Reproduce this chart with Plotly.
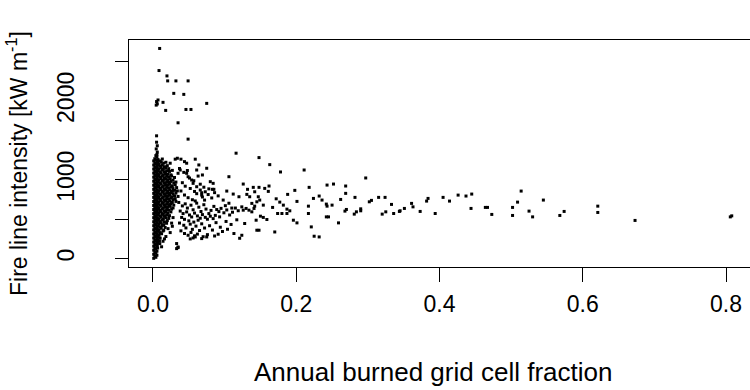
import plotly.graph_objects as go

# ---------------- data ----------------
# dense column of cells with almost no burned fraction
col_x = [0.001, 0.004, 0.0025, 0.0055] * 25
col_y = [4, 17, 29, 43, 55, 68, 81, 95, 107, 119,
         133, 146, 158, 171, 185, 197, 210, 222, 236, 249,
         261, 274, 288, 300, 313, 326, 339, 351, 365, 378,
         390, 403, 417, 429, 442, 455, 467, 480, 494, 506,
         519, 532, 545, 557, 570, 584, 596, 609, 622, 634,
         647, 661, 673, 686, 699, 711, 724, 738, 750, 763,
         776, 788, 801, 815, 827, 840, 853, 865, 878, 892,
         904, 917, 930, 942, 955, 969, 981, 994, 1007, 1019,
         1032, 1046, 1058, 1071, 1084, 1096, 1109, 1123, 1135, 1148,
         1161, 1173, 1186, 1200, 1212, 1225, 1238, 1251, 1266, 1288]

# dense wedge next to the column
wedge_points = [
    (0.007, 1255), (0.010, 1238), (0.013, 1262),
    (0.0065, 1218), (0.0085, 1200), (0.0115, 1225), (0.015, 1210),
    (0.007, 1185), (0.010, 1170), (0.013, 1190), (0.016, 1165), (0.020, 1178),
    (0.006, 1150), (0.0085, 1135), (0.0115, 1155), (0.0145, 1130), (0.018, 1148), (0.022, 1140),
    (0.007, 1115), (0.010, 1100), (0.013, 1120), (0.016, 1095), (0.019, 1112), (0.023, 1105), (0.027, 1118),
    (0.006, 1080), (0.0085, 1065), (0.0115, 1085), (0.0145, 1060), (0.0175, 1078), (0.021, 1070), (0.025, 1062),
    (0.007, 1045), (0.010, 1030), (0.013, 1050), (0.016, 1025), (0.019, 1042), (0.022, 1035), (0.026, 1048), (0.030, 1028),
    (0.006, 1010), (0.0085, 995), (0.0115, 1015), (0.0145, 990), (0.0175, 1008), (0.0205, 1000), (0.024, 1012), (0.028, 995),
    (0.007, 975), (0.010, 960), (0.013, 980), (0.016, 955), (0.019, 972), (0.022, 965), (0.025, 978), (0.029, 958), (0.032, 970),
    (0.006, 940), (0.0085, 925), (0.0115, 945), (0.0145, 920), (0.0175, 938), (0.0205, 930), (0.0235, 942), (0.027, 922), (0.031, 935),
    (0.007, 905), (0.010, 890), (0.013, 910), (0.016, 885), (0.019, 902), (0.022, 895), (0.025, 908), (0.028, 888), (0.033, 900),
    (0.006, 870), (0.0085, 855), (0.0115, 875), (0.0145, 850), (0.0175, 868), (0.0205, 860), (0.0235, 872), (0.027, 852), (0.030, 865), (0.034, 858),
    (0.007, 835), (0.010, 820), (0.013, 840), (0.016, 815), (0.019, 832), (0.022, 825), (0.025, 838), (0.028, 818), (0.032, 830),
    (0.006, 800), (0.0085, 785), (0.0115, 805), (0.0145, 780), (0.0175, 798), (0.0205, 790), (0.0235, 802), (0.0265, 782), (0.030, 795), (0.035, 788),
    (0.007, 765), (0.010, 750), (0.013, 770), (0.016, 745), (0.019, 762), (0.022, 755), (0.025, 768), (0.028, 748), (0.031, 760),
    (0.006, 730), (0.0085, 715), (0.0115, 735), (0.0145, 710), (0.0175, 728), (0.0205, 720), (0.0235, 732), (0.027, 712), (0.032, 725),
    (0.007, 695), (0.010, 680), (0.013, 700), (0.016, 675), (0.019, 692), (0.022, 685), (0.025, 698), (0.029, 678),
    (0.006, 660), (0.0085, 645), (0.0115, 665), (0.0145, 640), (0.0175, 658), (0.0205, 650), (0.024, 662), (0.028, 642),
    (0.007, 625), (0.010, 610), (0.013, 630), (0.016, 605), (0.019, 622), (0.022, 615), (0.026, 628),
    (0.006, 590), (0.0085, 575), (0.0115, 595), (0.0145, 570), (0.0175, 588), (0.021, 580), (0.025, 592),
    (0.007, 555), (0.010, 540), (0.013, 560), (0.016, 535), (0.019, 552), (0.023, 545),
    (0.006, 520), (0.0085, 505), (0.0115, 525), (0.0145, 500), (0.018, 518), (0.022, 510),
    (0.007, 485), (0.010, 470), (0.013, 490), (0.016, 465), (0.020, 482),
    (0.006, 450), (0.0085, 435), (0.0115, 455), (0.015, 430), (0.019, 448),
    (0.007, 415), (0.010, 400), (0.013, 420), (0.017, 395),
    (0.006, 380), (0.0085, 365), (0.0115, 385), (0.015, 360),
    (0.007, 345), (0.010, 330), (0.014, 350),
    (0.006, 310), (0.0085, 295), (0.012, 315),
    (0.007, 275), (0.010, 260), (0.007, 240), (0.009, 225),
    (0.007, 205), (0.0095, 190), (0.006, 170), (0.0065, 135),
    (0.021, 380), (0.024, 330), (0.018, 280), (0.014, 220), (0.012, 150),
    (0.016, 250), (0.026, 450), (0.028, 520), (0.027, 410),
]

# isolated high-intensity cells
top_points = [
    (0.0093, 2663), (0.0084, 2383), (0.0195, 2315), (0.0205, 2252), (0.032, 2252),
    (0.049, 2252), (0.029, 2094), (0.043, 2081), (0.075, 1967), (0.005, 1990),
    (0.006, 1960), (0.007, 2010), (0.0045, 1945), (0.014, 1980), (0.0177, 1878),
    (0.046, 1890), (0.053, 1890), (0.035, 1721), (0.005, 1556), (0.049, 1514),
    (0.005, 1475), (0.006, 1430), (0.0045, 1390), (0.006, 1350), (0.116, 1336),
    (0.0055, 1320), (0.004, 1305),
]

# fan of cells with small burned fractions
fan_points = [
    (0.044, 1229), (0.047, 1209), (0.031, 1260), (0.034, 1272), (0.039, 1260),
    (0.024, 1209), (0.018, 1221), (0.038, 1123), (0.035, 1081), (0.047, 1081),
    (0.049, 1038), (0.054, 996), (0.056, 954), (0.061, 911), (0.066, 869),
    (0.068, 805), (0.072, 742), (0.059, 1260), (0.064, 1187), (0.061, 1123),
    (0.075, 1145), (0.069, 1060), (0.106, 1038), (0.080, 975), (0.084, 954),
    (0.083, 878), (0.085, 878), (0.073, 847), (0.068, 835), (0.103, 856),
    (0.112, 818), (0.052, 250), (0.068, 254), (0.075, 275), (0.033, 191),
    (0.035, 140), (0.056, 262), (0.059, 275), (0.035, 148), (0.033, 127),
    (0.037, 1142), (0.043, 1093), (0.048, 1117), (0.051, 1021), (0.057, 987),
    (0.063, 1046), (0.066, 943), (0.071, 905), (0.078, 884), (0.086, 836),
    (0.041, 962), (0.045, 918), (0.052, 889), (0.058, 851), (0.061, 823),
    (0.069, 781), (0.077, 812), (0.082, 769), (0.091, 795), (0.098, 742),
    (0.039, 857), (0.044, 806), (0.049, 772), (0.055, 746), (0.059, 731),
    (0.036, 712), (0.041, 668), (0.045, 694), (0.048, 641), (0.053, 677),
    (0.056, 619), (0.061, 703), (0.064, 652), (0.067, 597), (0.071, 683),
    (0.074, 628), (0.078, 571), (0.081, 611), (0.085, 662), (0.087, 548),
    (0.092, 596), (0.095, 637), (0.099, 581), (0.103, 617), (0.107, 553),
    (0.038, 603), (0.042, 571), (0.047, 592), (0.051, 553), (0.054, 528),
    (0.058, 577), (0.062, 541), (0.066, 512), (0.069, 558), (0.073, 523),
    (0.076, 499), (0.080, 537), (0.084, 507), (0.089, 622), (0.093, 529),
    (0.101, 671), (0.106, 702), (0.111, 588), (0.115, 641), (0.119, 607),
    (0.040, 522), (0.044, 498), (0.050, 479), (0.057, 463), (0.063, 487),
    (0.037, 451), (0.043, 423), (0.046, 389), (0.052, 437), (0.055, 371),
    (0.060, 412), (0.065, 356), (0.068, 441), (0.072, 388), (0.079, 417),
    (0.083, 362), (0.088, 456), (0.094, 398), (0.097, 344), (0.102, 471),
    (0.109, 433), (0.113, 318), (0.117, 492), (0.039, 352), (0.044, 318),
    (0.049, 296), (0.053, 332), (0.058, 289), (0.062, 311), (0.070, 278),
    (0.076, 304), (0.086, 287), (0.091, 309), (0.104, 372), (0.110, 641),
]

# mid-range burned fractions
mid_points = [
    (0.148, 1280), (0.163, 1191), (0.178, 1098), (0.211, 1123), (0.297, 1022),
    (0.126, 945), (0.132, 878), (0.140, 903), (0.148, 903), (0.156, 890),
    (0.162, 920), (0.161, 852), (0.218, 903), (0.243, 932), (0.252, 945),
    (0.269, 920), (0.269, 827), (0.188, 814), (0.198, 865), (0.172, 758),
    (0.177, 716), (0.182, 678), (0.187, 627), (0.191, 606), (0.201, 725),
    (0.224, 763), (0.232, 793), (0.236, 742), (0.242, 691), (0.243, 665),
    (0.250, 678), (0.217, 665), (0.217, 572), (0.242, 529), (0.245, 529),
    (0.262, 750), (0.268, 602), (0.270, 623), (0.259, 453), (0.282, 776),
    (0.281, 564), (0.284, 593), (0.290, 606), (0.290, 631), (0.302, 720),
    (0.305, 738), (0.315, 776), (0.324, 776), (0.333, 687), (0.320, 564),
    (0.325, 593), (0.336, 572), (0.344, 598), (0.196, 487), (0.201, 453),
    (0.221, 402), (0.225, 284), (0.232, 275), (0.170, 338), (0.145, 360),
    (0.148, 360), (0.128, 445), (0.124, 296), (0.121, 258), (0.180, 572),
    (0.174, 572), (0.187, 572), (0.167, 649), (0.159, 496), (0.154, 522),
    (0.150, 538), (0.144, 487), (0.138, 593), (0.141, 636), (0.134, 614),
    (0.126, 614), (0.130, 636), (0.124, 656), (0.138, 700), (0.145, 720),
    (0.149, 742), (0.154, 678), (0.142, 665), (0.120, 784), (0.131, 814),
    (0.135, 784), (0.142, 847), (0.147, 784),
]

# large burned fractions
high_points = [
    (0.345, 606), (0.351, 636), (0.361, 700), (0.363, 656), (0.373, 598),
    (0.382, 729), (0.384, 763), (0.394, 572), (0.405, 776), (0.414, 729),
    (0.426, 805), (0.437, 793), (0.445, 818), (0.444, 636), (0.464, 649),
    (0.467, 649), (0.473, 560), (0.502, 649), (0.502, 547), (0.509, 716),
    (0.514, 856), (0.525, 602), (0.530, 529), (0.545, 742), (0.568, 547),
    (0.574, 598), (0.621, 665), (0.621, 585), (0.673, 484), (0.806, 529),
    (0.808, 542),
]

x_ticks = [0, 0.2, 0.4, 0.6, 0.8]
x_ticklabels = ["0.0", "0.2", "0.4", "0.6", "0.8"]
y_ticks = [0, 1000, 2000]
y_ticklabels = ["0", "1000", "2000"]
y_minor_ticks = [500, 1500, 2500]   # unlabelled tick marks

# ---------------- figure ----------------
xs = list(col_x)
ys = list(col_y)
for group in (wedge_points, top_points, fan_points, mid_points, high_points):
    xs += [p[0] for p in group]
    ys += [p[1] for p in group]

FONT = "Liberation Sans, Arial, Helvetica, sans-serif"

fig = go.Figure(go.Scatter(
    x=xs, y=ys, mode="markers",
    marker=dict(symbol="square", size=3, color="black", line=dict(width=0)),
    hoverinfo="skip", showlegend=False,
))

L, R, T, B = 129, 0, 40, 123
W, H = 750, 390
pw, ph = W - L - R, H - T - B

def px_to_paper_x(px):
    return (px - L) / pw

def px_to_paper_y(py):
    return (H - B - py) / ph

fig.update_layout(
    width=W, height=H,
    margin=dict(l=L, r=R, t=T, b=B, pad=0),
    paper_bgcolor="white", plot_bgcolor="white",
    font=dict(family=FONT, size=23, color="black"),
    xaxis=dict(
        range=[-0.0335, 0.8335], tickvals=x_ticks, ticktext=x_ticklabels,
        ticks="outside", ticklen=14, tickwidth=1, tickcolor="black",
        showline=True, linecolor="black", linewidth=1, mirror=True,
        showgrid=False, zeroline=False, tickfont=dict(size=23),
        ticklabelstandoff=2,
    ),
    yaxis=dict(
        range=[-106, 2770], tickvals=y_ticks, ticktext=y_ticklabels,
        ticks="outside", ticklen=13, tickwidth=1, tickcolor="black",
        minor=dict(tickvals=y_minor_ticks, ticks="outside", ticklen=13,
                   tickwidth=1, tickcolor="black", showgrid=False),
        showline=True, linecolor="black", linewidth=1, mirror=False,
        showgrid=False, zeroline=False, tickangle=-90, tickfont=dict(size=23),
        ticklabelstandoff=32,
    ),
    annotations=[
        dict(text="Annual burned grid cell fraction", xref="paper", yref="paper",
             x=px_to_paper_x(433), y=px_to_paper_y(372), xanchor="center", yanchor="middle",
             showarrow=False, font=dict(size=26)),
        dict(text="Fire line intensity [kW m<sup>-1</sup>]", xref="paper", yref="paper",
             x=px_to_paper_x(17), y=px_to_paper_y(164), xanchor="center", yanchor="middle",
             textangle=-90, showarrow=False, font=dict(size=23)),
    ],
)

fig.write_html("out.html")
